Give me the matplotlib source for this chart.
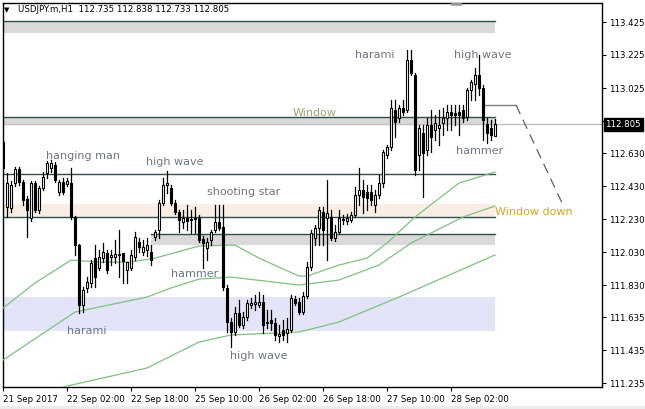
import matplotlib.pyplot as plt
from matplotlib.patches import Rectangle
from matplotlib.lines import Line2D

# USDJPY.m H1 bars, index 0 = 21 Sep 10:00 (prices)
opens = [112.698, 112.304, 112.298, 112.449, 112.534, 112.455, 112.352, 112.237, 112.449, 112.286,
         112.419, 112.510, 112.540, 112.558, 112.395, 112.455, 112.443, 112.449, 112.243, 112.073,
         111.710, 111.813, 111.843, 111.995, 111.934, 111.995, 112.025, 112.001, 112.001, 112.013,
         112.025, 111.922, 111.934, 112.001, 112.092, 112.031, 112.043, 112.031, 112.122, 112.164,
         112.328, 112.437, 112.419, 112.328, 112.274, 112.213, 112.237, 112.225, 112.231, 112.237,
         112.110, 112.055, 112.104, 112.164, 112.213, 112.183, 111.813, 111.607, 111.546, 111.661,
         111.589, 111.637, 111.710, 111.716, 111.710, 111.728, 111.601, 111.619, 111.601, 111.522,
         111.558, 111.540, 111.558, 111.746, 111.728, 111.667, 111.764, 111.940, 112.116, 112.176,
         112.274, 112.237, 112.243, 112.116, 112.152, 112.231, 112.219, 112.225, 112.255, 112.377,
         112.407, 112.395, 112.395, 112.316, 112.377, 112.449, 112.619, 112.667, 112.892, 112.843,
         112.904, 112.892, 113.195, 113.104, 112.619, 112.752, 112.649, 112.801, 112.770, 112.783,
         112.813, 112.843, 112.880, 112.873, 112.880, 112.892, 112.849, 113.013, 113.049, 113.104,
         113.025, 112.807, 112.783, 112.735]
highs = [112.710, 112.510, 112.461, 112.546, 112.546, 112.467, 112.370, 112.461, 112.461, 112.431,
         112.516, 112.583, 112.589, 112.577, 112.467, 112.480, 112.480, 112.540, 112.249, 112.080,
         111.819, 111.880, 111.983, 112.073, 112.043, 112.086, 112.043, 112.043, 112.104, 112.164,
         112.025, 111.970, 112.043, 112.152, 112.116, 112.104, 112.116, 112.073, 112.164, 112.346,
         112.480, 112.522, 112.437, 112.346, 112.286, 112.286, 112.316, 112.286, 112.304, 112.255,
         112.128, 112.116, 112.164, 112.316, 112.316, 112.316, 111.831, 111.631, 111.698, 111.740,
         111.667, 111.740, 111.752, 111.770, 111.789, 111.770, 111.680, 111.680, 111.631, 111.589,
         111.619, 111.631, 111.770, 111.764, 111.752, 111.789, 111.970, 112.164, 112.195, 112.304,
         112.304, 112.467, 112.286, 112.195, 112.286, 112.255, 112.261, 112.274, 112.425, 112.540,
         112.467, 112.437, 112.437, 112.407, 112.498, 112.649, 112.680, 112.952, 112.952, 112.922,
         112.952, 113.255, 113.255, 113.116, 112.801, 112.801, 112.843, 112.892, 112.861, 112.892,
         112.904, 112.922, 112.922, 112.922, 112.922, 112.922, 113.025, 113.073, 113.146, 113.225,
         113.043, 112.843, 112.831, 112.838]
lows = [112.516, 112.243, 112.274, 112.431, 112.437, 112.316, 112.122, 112.219, 112.274, 112.267,
        112.407, 112.480, 112.516, 112.455, 112.377, 112.383, 112.431, 112.231, 112.013, 111.661,
        111.667, 111.789, 111.819, 111.819, 111.922, 111.970, 111.904, 111.952, 111.964, 111.880,
        111.843, 111.843, 111.922, 111.983, 112.031, 112.013, 112.007, 111.952, 112.104, 112.116,
        112.316, 112.389, 112.316, 112.261, 112.152, 112.176, 112.164, 112.146, 112.146, 112.092,
        111.934, 111.983, 112.073, 112.152, 112.164, 111.801, 111.546, 111.455, 111.528, 111.577,
        111.570, 111.619, 111.692, 111.680, 111.698, 111.540, 111.570, 111.558, 111.498, 111.486,
        111.498, 111.486, 111.546, 111.710, 111.655, 111.655, 111.752, 111.922, 112.073, 112.073,
        112.073, 111.983, 112.104, 112.098, 112.140, 112.201, 112.201, 112.213, 112.243, 112.316,
        112.267, 112.286, 112.316, 112.274, 112.358, 112.425, 112.601, 112.649, 112.728, 112.819,
        112.861, 112.880, 113.104, 112.498, 112.528, 112.364, 112.619, 112.637, 112.710, 112.680,
        112.740, 112.770, 112.770, 112.801, 112.740, 112.819, 112.831, 112.952, 112.952, 112.983,
        112.710, 112.692, 112.710, 112.733]
closes = [112.540, 112.449, 112.437, 112.534, 112.455, 112.346, 112.286, 112.449, 112.286, 112.419,
          112.486, 112.570, 112.570, 112.467, 112.455, 112.395, 112.461, 112.243, 112.073, 111.710,
          111.801, 111.849, 111.964, 111.880, 112.001, 112.031, 111.922, 112.013, 112.019, 112.019,
          111.977, 111.970, 112.013, 112.122, 112.061, 112.061, 112.073, 111.983, 112.152, 112.328,
          112.437, 112.449, 112.328, 112.274, 112.225, 112.237, 112.219, 112.231, 112.237, 112.104,
          112.086, 112.092, 112.152, 112.213, 112.176, 111.819, 111.607, 111.546, 111.661, 111.589,
          111.637, 111.722, 111.722, 111.728, 111.728, 111.589, 111.607, 111.601, 111.528, 111.534,
          111.528, 111.564, 111.752, 111.722, 111.667, 111.764, 111.940, 112.146, 112.176, 112.286,
          112.164, 112.267, 112.116, 112.152, 112.237, 112.225, 112.237, 112.255, 112.377, 112.407,
          112.364, 112.358, 112.346, 112.377, 112.449, 112.637, 112.667, 112.904, 112.819, 112.904,
          112.880, 113.195, 113.116, 112.528, 112.783, 112.631, 112.801, 112.728, 112.813, 112.801,
          112.843, 112.880, 112.861, 112.861, 112.861, 112.843, 113.013, 113.061, 113.104, 113.025,
          112.831, 112.752, 112.740, 112.805]

# moving averages read at a few bars
ma1_x = [0, 8, 17, 24, 32, 38, 49, 58, 64, 74, 76, 84, 91, 96, 103, 114, 123]
ma1 = [111.691, 111.843, 111.982, 111.970, 111.970, 111.994, 112.067, 112.073, 111.994, 111.885,
       111.885, 111.952, 111.994, 112.085, 112.243, 112.449, 112.516]
ma2_x = [0, 18, 36, 42, 49, 57, 74, 84, 94, 102, 115, 123]
ma2 = [111.376, 111.667, 111.758, 111.813, 111.867, 111.879, 111.831, 111.861, 111.952, 112.085,
       112.243, 112.310]
ma3_x = [15, 36, 49, 57, 74, 84, 99, 115, 123]
ma3 = [111.213, 111.328, 111.485, 111.528, 111.546, 111.607, 111.758, 111.928, 112.013]

# zones (low, high)
gray_top = (113.358, 113.431)
window = (112.800, 112.849)
res_line = 112.504
peach = (112.243, 112.322)
gray_low = (112.073, 112.140)
blue = (111.552, 111.758)
last_price = 112.805

ytick_vals = [113.425, 113.225, 113.025, 112.825, 112.630, 112.430, 112.230, 112.030,
              111.830, 111.635, 111.435, 111.235]
ytick_lbl = ['113.425', '113.225', '113.025', '', '112.630', '112.430', '112.230',
             '112.030', '111.830', '111.635', '111.435', '111.235']
xtick_pos = [0, 16, 32, 48, 64, 80, 96, 112]
xtick_lbl = ['21 Sep 2017', '22 Sep 02:00', '22 Sep 18:00', '25 Sep 10:00', '26 Sep 02:00',
             '26 Sep 18:00', '27 Sep 10:00', '28 Sep 02:00']

W, H = 645, 409
fig = plt.figure(figsize=(W / 100, H / 100), dpi=100)
L, R, T, B = 2.5, 601.7, 2.5, 386.7
ax = fig.add_axes([L / W, 1 - B / H, (R - L) / W, (B - T) / H])

# pixel -> data helpers, only for placing annotations
def bx(px):
    return (px - 3) / 4.0

def py(px):
    return 113.425 - (px - 22) / 165.0

ax.set_xlim(bx(L), bx(R))
ax.set_ylim(py(B), py(T))

dark = '#2f4f4f'
x0, x1 = bx(0), bx(495)

def band(lo, hi, color, xs=x0, top_line=False, bottom_line=False):
    ax.add_patch(Rectangle((xs, lo), x1 - xs, hi - lo, facecolor=color, edgecolor='none', zorder=1))
    if top_line:
        ax.plot([xs, x1], [hi, hi], color=dark, lw=1, zorder=2)
    if bottom_line:
        ax.plot([xs, x1], [lo, lo], color=dark, lw=1, zorder=2)

band(*gray_top, '#d9d9d9', top_line=True)
band(*window, '#d9d9d9', top_line=True)
band(*peach, '#faeee4', bottom_line=True)
band(*gray_low, '#d9d9d9', xs=bx(151), top_line=True)
band(*blue, '#e3e4f7')
ax.plot([x0, x1], [res_line, res_line], color=dark, lw=1, zorder=2)

for mx, my in ((ma1_x, ma1), (ma2_x, ma2), (ma3_x, ma3)):
    ax.plot(mx, my, color='#80c080', lw=0.9, zorder=3)

ax.axhline(last_price, color='#c0c0c0', lw=1, zorder=2)

for i, (o, h, l, c) in enumerate(zip(opens, highs, lows, closes)):
    ax.plot([i, i], [l, h], color='black', lw=0.9, zorder=4)
    fc = 'white' if c >= o else 'black'
    ax.add_patch(Rectangle((i - 0.3, min(o, c)), 0.6, max(abs(c - o), 0.004),
                           facecolor=fc, edgecolor='black', lw=0.8, zorder=5))

# window-down callout
ax.plot([bx(483), bx(516)], [py(105), py(105)], color='#808080', lw=1, zorder=3)
ax.plot([bx(516), bx(563)], [py(105), py(205)], color='#606060', lw=0.9, ls=(0, (8, 5)), zorder=3)

lab = '#6e7584'
for txt, xp, yp in [('hanging man', 83, 156), ('high wave', 175, 162), ('shooting star', 244, 192),
                    ('hammer', 195, 274), ('harami', 87, 331), ('high wave', 259, 356),
                    ('harami', 375, 55), ('high wave', 483, 55), ('hammer', 480, 151)]:
    ax.text(bx(xp), py(yp), txt, color=lab, fontsize=8, ha='center', va='center', zorder=6)
ax.text(bx(315), py(113), 'Window', color='#a4a070', fontsize=8, ha='center', va='center', zorder=6)
ax.text(bx(495), py(212), 'Window down', color='#daa520', fontsize=8, ha='left', va='center', zorder=6)

# axes styling
for s in ax.spines.values():
    s.set_color('black')
    s.set_linewidth(1)
ax.yaxis.tick_right()
ax.set_yticks(ytick_vals)
ax.set_yticklabels(ytick_lbl)
ax.set_xticks(xtick_pos)
ax.set_xticklabels(xtick_lbl, ha='left')
ax.tick_params(axis='both', length=3, width=0.8, labelsize=6.2, pad=2, colors='black')
ax.tick_params(axis='x', pad=3)

ax.text(1.006, last_price, '112.805', transform=ax.get_yaxis_transform(), color='white',
        fontsize=6.2, ha='left', va='center', zorder=10, clip_on=False,
        bbox=dict(boxstyle='square,pad=0.2', fc='black', ec='black'))

fig.text(4 / W, 1 - 10 / H, '\u25bc', fontsize=5, va='center', ha='left')
fig.text(18 / W, 1 - 10 / H, 'USDJPY.m,H1  112.735 112.838 112.733 112.805', fontsize=6.2,
         va='center', ha='left')
fig.add_artist(Line2D([452 / W, 460 / W], [1 - 4 / H, 1 - 4 / H], color='#a0a0a0', lw=2))
fig.patches.append(Rectangle((0, 0), 1, 3 / H, transform=fig.transFigure, fc='#ececec', ec='none'))

fig.savefig('out.png', dpi=100)
